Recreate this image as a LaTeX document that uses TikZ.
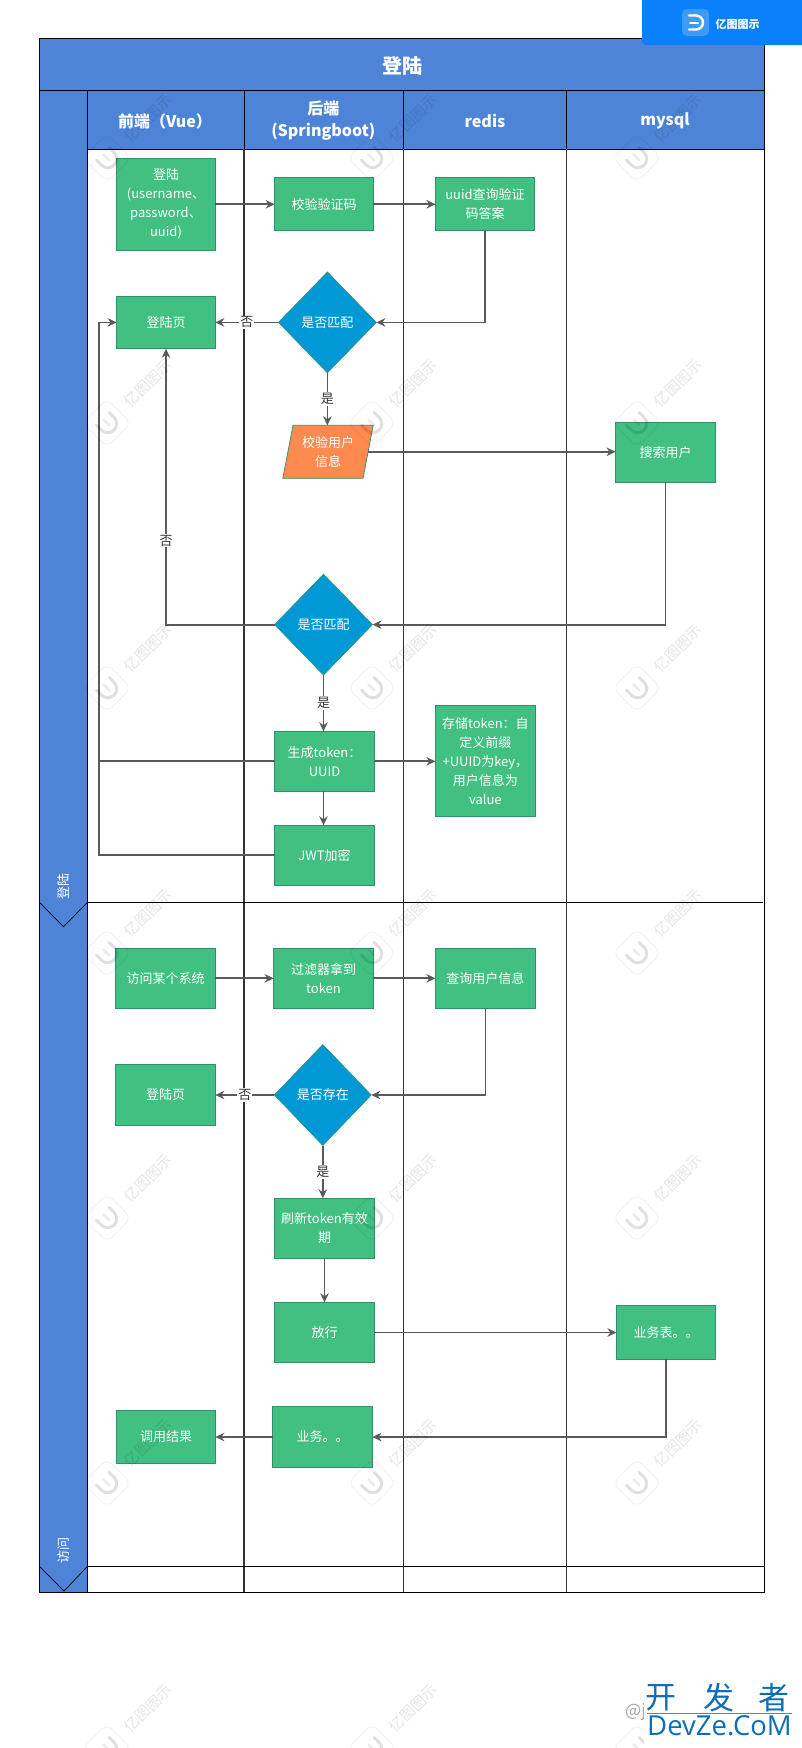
\documentclass[tikz,border=0pt]{standalone}
\usepackage{fontspec}
\setmainfont{Noto Sans CJK SC}
\newfontfamily\latinfont{Open Sans}
\usetikzlibrary{shapes.geometric,arrows.meta,calc}
\definecolor{laneblue}{HTML}{4E84D8}
\definecolor{boxgreen}{HTML}{41C082}
\definecolor{boxedge}{HTML}{2F8F66}
\definecolor{diablue}{HTML}{0099D6}
\definecolor{orangebox}{HTML}{FF8A50}
\definecolor{conn}{HTML}{5A5A5A}
\definecolor{banner}{HTML}{0A80FA}
\definecolor{bannerlogo}{HTML}{3D9BF5}
\definecolor{devblue}{HTML}{0F6DB8}
\tikzset{
  x=1pt,y=-1pt,
  basefont/.style={font=\fontsize{13}{19}\selectfont},
  gbox/.style={draw=boxedge,fill=boxgreen,line width=0.9pt,text=white,align=center,inner sep=0pt,outer sep=0pt,basefont},
  dia/.style={diamond,draw=boxedge,fill=diablue,line width=0.5pt,text=white,align=center,inner sep=0pt,outer sep=0pt,minimum width=98pt,minimum height=101pt,basefont},
  para/.style={trapezium,trapezium left angle=76.4,trapezium right angle=103.6,trapezium stretches=true,draw=boxedge,fill=orangebox,line width=0.7pt,text=white,align=center,inner sep=0pt,outer sep=0pt,minimum width=90.5pt,minimum height=53pt,basefont},
  headcell/.style={draw=black,fill=laneblue,line width=1pt,text=white,align=center,inner sep=0pt,outer sep=0pt},
  headtext/.style={text=white,align=center,inner sep=0pt,font=\fontsize{16}{22}\selectfont\bfseries},
  lanetext/.style={text=white,rotate=90,inner sep=0pt,basefont},
  lbl/.style={fill=white,text=black!80,inner sep=1pt,basefont},
  flow/.style={draw=conn,line width=1.8pt,-{Stealth[length=9pt,width=8.5pt]}},
  flowplain/.style={draw=conn,line width=1.8pt},
  lanerule/.style={draw=black!80,line width=1.2pt},
  rowrule/.style={draw=black,line width=1pt},
}
\begin{document}
\begin{tikzpicture}
\useasboundingbox (0,0) rectangle (802,1748);
\fill[white] (0,0) rectangle (802,1748);
\clip (0,0) rectangle (802,1748);
% header cells
\node[headcell,minimum width=725.3pt,minimum height=52pt] (title) at (402.05,64.3) {};
\node[headtext,font=\fontsize{20}{24}\selectfont\bfseries] (ttitle) at (402.05,66) {登陆};
\node[headcell,minimum width=156.5pt,minimum height=59pt] (hvue) at (165.75,119.8) {};
\node[headcell,minimum width=159.6pt,minimum height=59pt] (hspring) at (323.8,119.8) {};
\node[headcell,minimum width=163.2pt,minimum height=59pt] (hredis) at (485.2,119.8) {};
\node[headcell,minimum width=197.9pt,minimum height=59pt] (hmysql) at (665.75,119.8) {};
\node[headtext] (tvue) at (165,121) {前端（Vue）};
\node[headtext] (tspring) at (323.3,121) {后端\\(Springboot)};
\node[headtext] (tredis) at (485,121) {redis};
\node[headtext] (tmysql) at (665,121) {mysql};
% left title column
\fill[laneblue] (39.4,90.3) rectangle (87.5,1592.3);
\draw[rowrule] (39.4,90.3) rectangle (87.5,1592.3);
\draw[draw=black,line width=0.7pt] (39.4,902.3) -- (63.5,926.7) -- (87.5,902.3);
\draw[draw=black,line width=0.7pt] (39.4,1566.3) -- (64,1591) -- (87.5,1566.3);
\node[lanetext] (l1) at (63.4,886) {登陆};
\node[lanetext] (l2) at (63.4,1550) {访问};
% lanes
\draw[lanerule] (hspring.south west) -- (hspring.south west |- 0,1592.3);
\draw[lanerule] (hredis.south west) -- (hredis.south west |- 0,1592.3);
\draw[lanerule] (hmysql.south west) -- (hmysql.south west |- 0,1592.3);
\draw[rowrule] (hmysql.south east) -- (hmysql.south east |- 0,1592.3);
\draw[rowrule] (87.5,1592.3) -- (764.7,1592.3);
\draw[rowrule] (87.5,902.3) -- (763,902.3);
\draw[rowrule] (87.5,1566.3) -- (764.7,1566.3);
% nodes, first lane
\node[gbox,minimum width=98.7pt,minimum height=92pt] (n1) at (166,204.3) {登陆\\(username、\\password、\\uuid)};
\node[gbox,minimum width=98.7pt,minimum height=53pt] (v1) at (324,204.3) {校验验证码};
\node[gbox,minimum width=99pt,minimum height=53pt] (u1) at (485,204.3) {uuid查询验证\\码答案};
\node[gbox,minimum width=98.7pt,minimum height=52.7pt] (p1) at (166,322.4) {登陆页};
\node[dia] (d1) at (327.4,322.4) {是否匹配};
\node[para] (pg) at (328,451.8) {校验用户\\信息};
\node[gbox,minimum width=100pt,minimum height=60pt] (s1) at (665.5,452.3) {搜索用户};
\node[dia] (d2) at (323.5,624.6) {是否匹配};
\node[gbox,minimum width=99.7pt,minimum height=60pt] (t1) at (324.5,761.3) {生成token：\\UUID};
\node[gbox,minimum width=100pt,minimum height=111pt] (st) at (485.4,761.3) {存储token：自\\定义前缀\\+UUID为key，\\用户信息为\\value};
\node[gbox,minimum width=99.7pt,minimum height=60pt] (j1) at (324.5,855.3) {JWT加密};
% nodes, second lane
\node[gbox,minimum width=99.7pt,minimum height=60pt] (a1) at (165.5,978.3) {访问某个系统};
\node[gbox,minimum width=99.8pt,minimum height=60pt] (f1) at (323.5,978.3) {过滤器拿到\\token};
\node[gbox,minimum width=100pt,minimum height=60pt] (q1) at (485.4,978.3) {查询用户信息};
\node[gbox,minimum width=99.7pt,minimum height=60.7pt] (p2) at (165.5,1095) {登陆页};
\node[dia,minimum width=97pt] (d3) at (322.8,1095) {是否存在};
\node[gbox,minimum width=99.7pt,minimum height=60.4pt] (r1) at (324.5,1228.5) {刷新token有效\\期};
\node[gbox,minimum width=99.7pt,minimum height=60.4pt] (g1) at (324.5,1332.5) {放行};
\node[gbox,minimum width=99.2pt,minimum height=53.4pt] (b1) at (666,1332.5) {业务表。。};
\node[gbox,minimum width=99.8pt,minimum height=60.4pt] (w1) at (322.5,1437) {业务。。};
\node[gbox,minimum width=98.7pt,minimum height=53.4pt] (c1) at (166,1437) {调用结果};
% connectors, first lane
\coordinate (lx) at (99.2,322.4);
\draw[flow] (n1.east) -- (v1.west);
\draw[flow] (v1.east) -- (u1.west);
\draw[flow] (u1.south) |- (d1.east);
\draw[flow] (d1.west) -- node[lbl,midway] {否} (p1.east);
\draw[flow] (d1.south) -- node[lbl,midway] {是} (d1.south |- pg.north);
\draw[flow] (pg.east) -- (pg.east -| s1.west);
\draw[flow] (s1.south) |- (d2.east);
\draw[flow] (d2.west) -| node[lbl,pos=0.652] {否} (p1.south);
\draw[flow] (d2.south) -- node[lbl,midway] {是} (d2.south |- t1.north);
\draw[flow] (t1.east) -- (st.west);
\draw[flow] (t1.south -| d2.south) -- (j1.north -| d2.south);
\draw[flow] (j1.west) -| (lx) -- (p1.west);
\draw[flowplain] (t1.west) -- (t1.west -| lx);
% connectors, second lane
\draw[flow] (a1.east) -- (f1.west);
\draw[flow] (f1.east) -- (q1.west);
\draw[flow] (q1.south) |- (d3.east);
\draw[flow] (d3.west) -- node[lbl,midway] {否} (p2.east);
\draw[flow] (d3.south) -- node[lbl,midway] {是} (d3.south |- r1.north);
\draw[flow] (r1.south) -- (g1.north);
\draw[flow] (g1.east) -- (b1.west);
\draw[flow] (b1.south) |- (w1.east);
\draw[flow] (w1.west) -- (c1.east);
% watermarks
\foreach \cx in {107,372,637} \foreach \cy in {158,423,688,953,1218,1483,1748} {
  \begin{scope}[shift={(\cx,\cy)}]
    \begin{scope}[rotate=-45]
      \draw[black,opacity=0.07,line width=0.7pt,rounded corners=7pt] (-17,-17) rectangle (17,17);
      \draw[black,opacity=0.12,line width=3pt,line cap=round] (-6,-9) -- (1,-9) arc (-90:90:9) -- (-6,9);
      \draw[black,opacity=0.08,line width=2.5pt,line cap=round] (-5,0) -- (3,0);
    \end{scope}
    \node[rotate=45,text=black,opacity=0.1,inner sep=0pt,font=\fontsize{15}{15}\selectfont] (wm\cx-\cy) at (41,-40) {亿图图示};
  \end{scope}
}
% top banner
\fill[banner,rounded corners=4pt] (642,-10) rectangle (812,45);
\fill[bannerlogo,rounded corners=5pt] (682,9) rectangle (709,36);
\draw[white,line width=2.4pt,line cap=round] (689,15.5) -- (696,15.5) arc (-90:90:7) -- (689,29.5);
\draw[white,line width=2pt,line cap=round] (690,22.5) -- (698,22.5);
\node[text=white,inner sep=0pt,font=\fontsize{11}{11}\selectfont\bfseries] (bannertext) at (737.5,24) {亿图图示};
% bottom-right mark
\node[text=black!35,inner sep=0pt,anchor=west,font=\fontsize{17}{17}\selectfont] (atj) at (625,1712) {@j};
\fill[white] (644,1682) rectangle (802,1748);
\node[text=devblue,inner sep=0pt,font=\fontsize{31}{31}\selectfont] (kfz1) at (661,1698) {开};
\node[text=devblue,inner sep=0pt,font=\fontsize{31}{31}\selectfont] (kfz2) at (719,1698) {发};
\node[text=devblue,inner sep=0pt,font=\fontsize{31}{31}\selectfont] (kfz3) at (774,1698) {者};
\draw[draw=devblue!60!cyan,line width=0.7pt] (647,1713) -- (792,1713);
\node[text=devblue,inner sep=0pt,font=\latinfont\fontsize{27.5}{30}\selectfont] (devze) at (719.5,1726) {DevZe.CoM};
\end{tikzpicture}
\end{document}
